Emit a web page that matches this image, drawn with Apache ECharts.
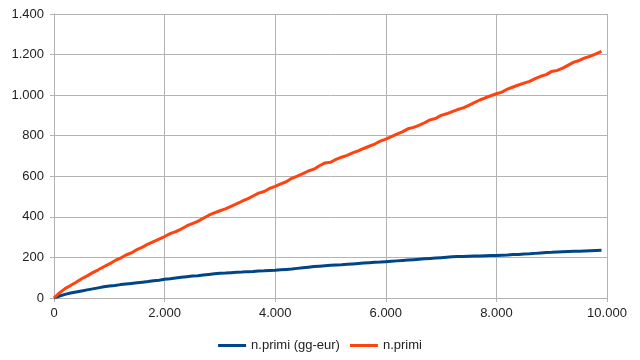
<!DOCTYPE html>
<html><head><meta charset="utf-8">
<script src="https://cdn.jsdelivr.net/npm/echarts@6/dist/echarts.min.js"></script>
<style>html,body{margin:0;padding:0;background:#fff}#c{width:640px;height:360px}</style>
</head><body><div id="c"></div>
<script>
const xValues = [0,100,200,300,400,500,600,700,800,900,1000,1100,1200,1300,1400,1500,1600,1700,1800,1900,2000,2100,2200,2300,2400,2500,2600,2700,2800,2900,3000,3100,3200,3300,3400,3500,3600,3700,3800,3900,4000,4100,4200,4300,4400,4500,4600,4700,4800,4900,5000,5100,5200,5300,5400,5500,5600,5700,5800,5900,6000,6100,6200,6300,6400,6500,6600,6700,6800,6900,7000,7100,7200,7300,7400,7500,7600,7700,7800,7900,8000,8100,8200,8300,8400,8500,8600,8700,8800,8900,9000,9100,9200,9300,9400,9500,9600,9700,9800,9900];
const primiGgEur = [0,10,18,25,30,35,40,45,50,55,59,62,66,69,72,75,78,81,85,88,92,95,99,102,105,108,110,113,116,119,122,123,125,127,128,130,131,133,134,136,137,139,141,143,146,149,152,155,157,159,161,163,164,166,168,170,172,174,176,177,179,181,183,185,187,189,191,193,195,197,199,201,203,204,205,206,207,207,208,209,210,211,212,214,215,217,218,220,222,224,225,227,228,229,230,231,232,233,234,235];
const primi = [0,25,46,62,78,95,109,125,139,154,168,184,196,212,222,239,251,266,278,290,303,317,327,340,355,367,378,393,408,420,430,439,452,464,477,489,503,517,525,540,550,563,573,590,601,613,626,635,652,666,669,683,694,703,715,725,737,748,759,773,783,796,808,819,834,841,851,864,878,885,900,908,919,929,937,950,963,976,987,997,1007,1015,1030,1040,1050,1059,1068,1081,1093,1101,1117,1122,1133,1148,1163,1171,1184,1192,1203,1216];
const seriesNames = ['n.primi (gg-eur)', 'n.primi'];

function fmt(v){ return String(v).replace(/\B(?=(\d{3})+(?!\d))/g, '.'); }
const pairs = arr => xValues.map((x,i)=>[x, arr[i]]);
const gridColor = '#b3b3b3';
const chart = echarts.init(document.getElementById('c'), null, {renderer:'canvas'});
chart.setOption({
  animation:false,
  textStyle:{fontFamily:'Liberation Sans, Arial, sans-serif'},
  grid:{left:54, right:33, top:14, bottom:62, containLabel:false},
  xAxis:{type:'value', min:0, max:10000, interval:2000,
    axisLine:{show:true, lineStyle:{color:gridColor}},
    axisTick:{show:true, length:4, lineStyle:{color:gridColor}},
    splitLine:{show:true, lineStyle:{color:gridColor, width:1}},
    axisLabel:{color:'#222', fontSize:13, margin:9, formatter:fmt}},
  yAxis:{type:'value', min:0, max:1400, interval:200,
    axisLine:{show:true, lineStyle:{color:gridColor}},
    axisTick:{show:true, length:4, lineStyle:{color:gridColor}},
    splitLine:{show:true, lineStyle:{color:gridColor, width:1}},
    axisLabel:{color:'#222', fontSize:13, margin:10, formatter:fmt}},
  legend:{bottom:3, left:'center', icon:'rect', itemWidth:28, itemHeight:3, itemGap:10,
    textStyle:{color:'#222', fontSize:13}},
  series:[
    {name:seriesNames[0], type:'line', data:pairs(primiGgEur), showSymbol:false, smooth:false,
      lineStyle:{color:'#004586', width:3}, itemStyle:{color:'#004586'}},
    {name:seriesNames[1], type:'line', data:pairs(primi), showSymbol:false, smooth:false,
      lineStyle:{color:'#ff420e', width:3}, itemStyle:{color:'#ff420e'}}
  ]
});
</script></body></html>
